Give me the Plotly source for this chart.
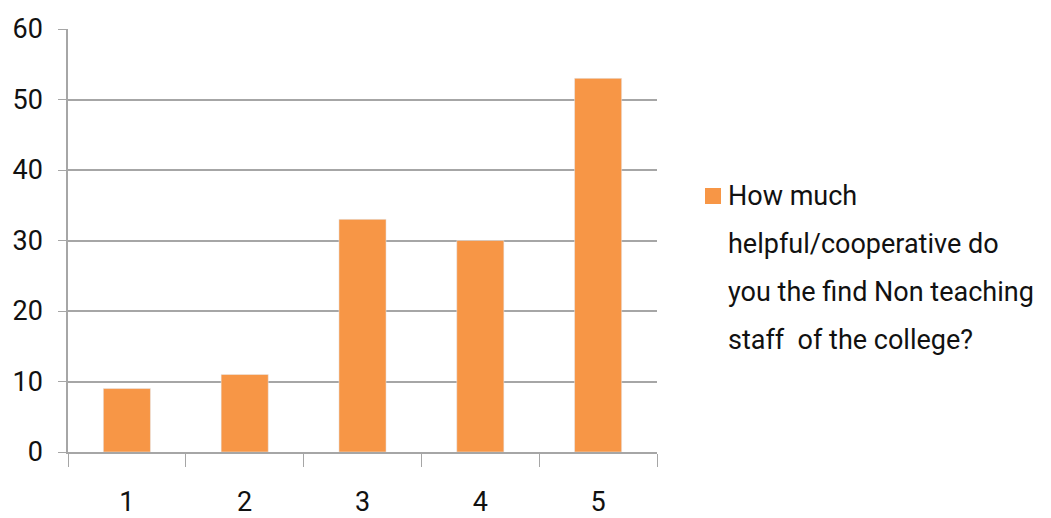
import plotly.graph_objects as go

categories = ["1", "2", "3", "4", "5"]
values = [9, 11, 33, 30, 53]
y_ticks = [0, 10, 20, 30, 40, 50, 60]
legend_lines = ["How much", "helpful/cooperative do", "you the find Non teaching", "staff  of the college?"]
series_name = " ".join(legend_lines)

OFF = 8  # default page body margin
W, H = 1051 - 2 * OFF, 518 - OFF
PL, PR, PT, PB = 68, 657, 29, 452  # plot area in window pixels
L, T = PL - OFF, PT - OFF
R = W - (PR - OFF)
B = H - (PB - OFF)
pw, ph = PR - PL, PB - PT
FONT = "Roboto, Arial, sans-serif"
FS = 27
ORANGE = "#F79646"
GRID = "#A6A6A6"
TXT = "#111111"

fig = go.Figure()
fig.add_trace(go.Bar(x=categories, y=values, name=series_name, marker_color=ORANGE,
                     width=0.4, showlegend=False))

def px2paper(px, py):
    return (px - PL) / pw, (PB - py) / ph

# legend square
x0, y0 = px2paper(705, 204)
x1, y1 = px2paper(721, 188)
fig.add_shape(type="rect", xref="paper", yref="paper", x0=x0, y0=y0, x1=x1, y1=y1,
              fillcolor=ORANGE, line_width=0)
for i, line in enumerate(legend_lines):
    ax, ay = px2paper(726, 196 + i * 48)
    fig.add_annotation(text=line, xref="paper", yref="paper", x=ax, y=ay,
                       xanchor="left", yanchor="middle", showarrow=False,
                       font=dict(family=FONT, size=FS, color=TXT))

fig.update_layout(
    width=W, height=H,
    margin=dict(l=L, r=R, t=T, b=B, autoexpand=False),
    paper_bgcolor="white", plot_bgcolor="white",
    font=dict(family=FONT, size=FS, color=TXT),
    bargap=0.6,
)
fig.update_xaxes(type="category", tickson="boundaries", ticks="outside", ticklen=13,
                 tickcolor=GRID, showline=True, linecolor=GRID, linewidth=1.5,
                 showgrid=False, ticklabelstandoff=25)
fig.update_yaxes(range=[0, 60], tickvals=y_ticks, ticks="outside", ticklen=8,
                 tickcolor=GRID, showline=True, linecolor=GRID, linewidth=1.5,
                 showgrid=True, gridcolor=GRID, gridwidth=1.5, zeroline=False,
                 ticklabelstandoff=10)

fig.write_html("out.html")
